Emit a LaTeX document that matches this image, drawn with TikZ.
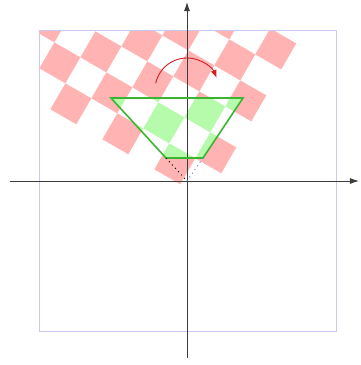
\documentclass[tikz,border=0pt]{standalone}
\usetikzlibrary{arrows.meta}
\definecolor{pinkc}{RGB}{255,179,179}
\definecolor{greenc}{RGB}{182,250,172}
\definecolor{trapc}{RGB}{60,180,50}
\definecolor{boxc}{RGB}{200,200,240}
\definecolor{axisc}{RGB}{60,60,60}
\definecolor{arrc}{RGB}{210,30,30}
\definecolor{dotb}{RGB}{100,140,180}
\newcommand\mycheckers[1]{%
  \begin{scope}[shift={(-32.7,11.7)}, rotate=-30]
    \foreach \i in {-10,...,1}{
      \foreach \j in {0,...,10}{
        \pgfmathtruncatemacro\cellpar{mod(\i+\j+100,2)}
        \ifnum\cellpar=0 \fill[#1] (\i*30,\j*30) rectangle ++(30,30); \fi
      }
    }
  \end{scope}}
\begin{document}
\begin{tikzpicture}[x=1pt,y=1pt,
  axis/.style={draw=axisc, line width=0.9pt, -{Latex[length=9pt,width=6pt]}},
  frame/.style={draw=boxc, line width=0.9pt},
  trap/.style={draw=trapc, line width=1.6pt, line join=miter},
  rot/.style={draw=arrc, line width=0.9pt, -{Latex[length=8pt,width=6pt]}},
  dotline/.style={line width=1pt, dash pattern=on 1pt off 3.5pt}]
\useasboundingbox (-187,-184) rectangle (174,181);
\coordinate (O) at (0,0);
\coordinate (BL) at (-148,-150);
\coordinate (TR) at (149,151);
\coordinate (TL) at (-76,83);
\coordinate (TRt) at (56,83);
\coordinate (BRt) at (16,23);
\coordinate (BLt) at (-21,23);
% pink board clipped to frame
\begin{scope}
  \clip (BL) rectangle (TR);
  \mycheckers{pinkc}
\end{scope}
% visible part: green
\fill[white] (TL) -- (TRt) -- (BRt) -- (BLt) -- cycle;
\begin{scope}
  \clip (TL) -- (TRt) -- (BRt) -- (BLt) -- cycle;
  \mycheckers{greenc}
\end{scope}
% frame
\draw[frame] (BL) rectangle (TR);
% axes
\coordinate (xa) at (-177,0);
\coordinate (xb) at (172,0);
\coordinate (ya) at (0,-177);
\coordinate (yb) at (0,179);
\draw[axis] (xa) -- (xb);
\draw[axis] (ya) -- (yb);
% frustum
\draw[trap] (TL) -- (TRt) -- (BRt) -- (BLt) -- cycle;
\draw[dotline, black] (BLt) -- (O);
\draw[dotline, dotb] (BRt) -- (O);
% rotation arrow
\coordinate (C) at (0,91);
\draw[rot] ([shift={(168:32)}]C) arc[start angle=168, end angle=22, radius=32];
\end{tikzpicture}
\end{document}
